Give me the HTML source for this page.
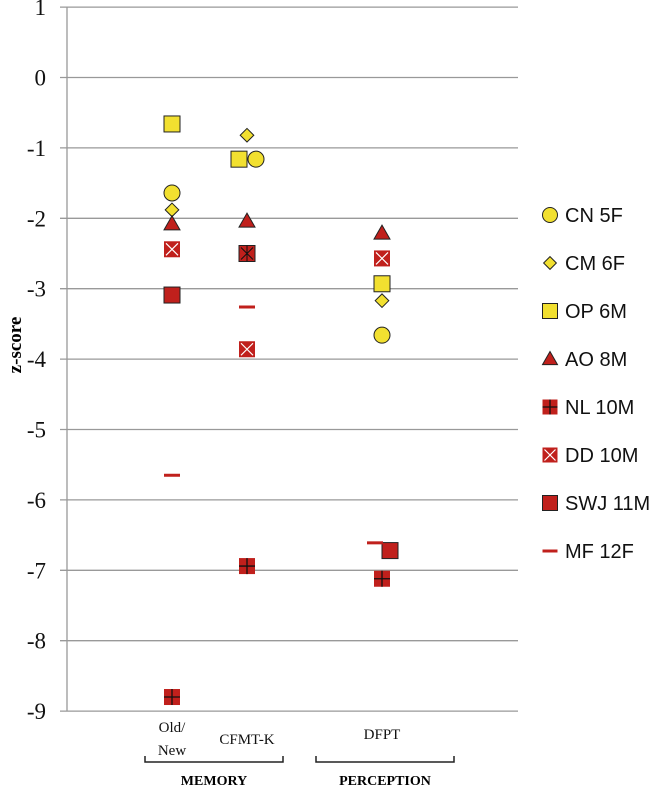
<!DOCTYPE html>
<html><head><meta charset="utf-8"><style>
html,body{margin:0;padding:0;background:#fff;width:666px;height:787px;overflow:hidden}
svg{display:block}
</style></head><body>
<svg id="chart" width="666" height="787" xmlns="http://www.w3.org/2000/svg">
<g id="grid"></g>
<g id="yticks"></g>
<line x1="67" y1="7" x2="67" y2="711" stroke="#999" stroke-width="1.3"/>
<text transform="translate(21,345) rotate(-90)" text-anchor="middle" font-family="Liberation Serif, serif" font-weight="bold" font-size="19">z-score</text>
<g id="marks"></g>
<g id="legend"></g>
<g font-family="Liberation Serif, serif" font-size="15" fill="#111">
<text x="172" y="732" text-anchor="middle">Old/</text>
<text x="172" y="755" text-anchor="middle">New</text>
<text x="247" y="744" text-anchor="middle">CFMT-K</text>
<text x="382" y="739" text-anchor="middle">DFPT</text>
</g>
<path d="M145,756 V762 H283 V756" fill="none" stroke="#222" stroke-width="1.5"/>
<path d="M316,756 V762 H454 V756" fill="none" stroke="#222" stroke-width="1.5"/>
<text x="214" y="785" text-anchor="middle" font-family="Liberation Serif, serif" font-weight="bold" font-size="14">MEMORY</text>
<text x="385" y="785" text-anchor="middle" font-family="Liberation Serif, serif" font-weight="bold" font-size="14">PERCEPTION</text>
</svg>
<script>
const tickValues=[1,0,-1,-2,-3,-4,-5,-6,-7,-8,-9];
const categories=["Old/New","CFMT-K","DFPT"];
const seriesNames=["CN 5F","CM 6F","OP 6M","AO 8M","NL 10M","DD 10M","SWJ 11M","MF 12F"];
const CN=[-1.64,-1.16,-3.66];
const CM=[-1.88,-0.82,-3.17];
const OP=[-0.66,-1.16,-2.93];
const AO=[-2.08,-2.04,-2.21];
const NL=[-8.8,-6.94,-7.12];
const DD=[-2.44,-3.86,-2.57];
const SWJ=[-3.09,-2.5,-6.72];
const MF=[-5.65,-3.26,-6.61];

const NS="http://www.w3.org/2000/svg";
function yScale(v){return 77.5-v*70.4;}
const catX=[172,247,382];
function xScale(i){return catX[i];}
function mk(tag,attrs,parent){const e=document.createElementNS(NS,tag);for(const k in attrs)e.setAttribute(k,attrs[k]);parent.appendChild(e);return e;}
const grid=document.getElementById('grid'),yt=document.getElementById('yticks'),marks=document.getElementById('marks'),leg=document.getElementById('legend');
tickValues.forEach(v=>{
  const y=yScale(v);
  const l=mk('line',{x1:60,x2:518,y1:y,y2:y,stroke:'#999','stroke-width':1.3},grid);
  
  
  const t=mk('text',{x:46,y:y+8,'text-anchor':'end','font-family':'Liberation Serif, serif','font-size':23,fill:'#111'},yt);
  t.textContent=String(v);
  
  
});
const YEL='#f2e030',RED='#c0201c';
function drawMarker(type,x,y,parent,s,star){
  const g=mk('g',{},parent);const h=s/2;
  if(type==0)mk('circle',{cx:x,cy:y,r:h,fill:YEL,stroke:'#222','stroke-width':1},g);
  else if(type==1)mk('path',{d:`M${x},${y-h*0.85}L${x+h*0.85},${y}L${x},${y+h*0.85}L${x-h*0.85},${y}Z`,fill:YEL,stroke:'#222','stroke-width':1},g);
  else if(type==2)mk('rect',{x:x-h,y:y-h,width:s,height:s,fill:YEL,stroke:'#222','stroke-width':1},g);
  else if(type==3)mk('path',{d:`M${x},${y-h}L${x+h},${y+h*0.75}L${x-h},${y+h*0.75}Z`,fill:RED,stroke:'#222','stroke-width':1},g);
  else if(type==4){mk('rect',{x:x-h,y:y-h,width:s,height:s,fill:RED},g);mk('path',{d:`M${x},${y-h}V${y+h}M${x-h},${y}H${x+h}`,stroke:'#111','stroke-width':1.3},g);}
  else if(type==5){mk('rect',{x:x-h,y:y-h,width:s,height:s,fill:RED},g);mk('path',{d:`M${x-h+2},${y-h+2}L${x+h-2},${y+h-2}M${x+h-2},${y-h+2}L${x-h+2},${y+h-2}`,stroke:'#fff','stroke-width':1.2},g);}
  else if(type==6)mk('rect',{x:x-h,y:y-h,width:s,height:s,fill:RED,stroke:'#222','stroke-width':1},g);
  else mk('rect',{x:x-h,y:y-1.5,width:s,height:3,fill:RED},g);
  if(star)mk('path',{d:`M${x},${y-h}V${y+h}M${x-h+2},${y-h+2}L${x+h-2},${y+h-2}M${x+h-2},${y-h+2}L${x-h+2},${y+h-2}`,stroke:'#111','stroke-width':1},g);
  return g;
}
const allSeries=[CN,CM,OP,AO,NL,DD,SWJ,MF];
const offsets=[[0,9,0],[0,0,0],[0,-8,0],[0,0,0],[0,0,0],[0,0,0],[0,0,8],[0,0,-7]];
allSeries.forEach((arr,si)=>{
  arr.forEach((v,ci)=>{
    const g=drawMarker(si,xScale(ci)+offsets[si][ci],yScale(v),marks,16,si==6&&ci==1);
    
    
  });
});
seriesNames.forEach((n,i)=>{
  const y=215+i*48;
  const g=mk('g',{},leg);
  
  
  drawMarker(i,550,y,g,15,false);
  const t=mk('text',{x:565,y:y+7,'font-family':'Liberation Sans, sans-serif','font-size':20,fill:'#111'},g);
  t.textContent=n;
});
</script>
</body></html>
